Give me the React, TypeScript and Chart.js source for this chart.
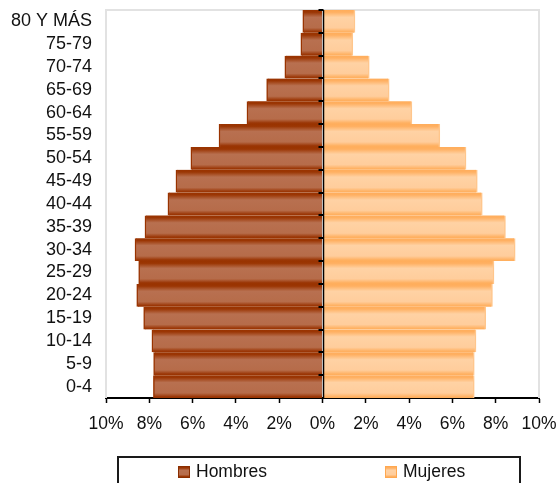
import React, { useEffect, useRef } from 'react';
import { Chart, registerables } from 'chart.js';
Chart.register(...registerables);

// Data (percent of population), youngest first
const ageGroups = ['0-4', '5-9', '10-14', '15-19', '20-24', '25-29', '30-34', '35-39', '40-44', '45-49', '50-54', '55-59', '60-64', '65-69', '70-74', '75-79', '80 Y MÁS'];
const hombres = [7.81, 7.8, 7.88, 8.26, 8.58, 8.49, 8.66, 8.2, 7.14, 6.77, 6.08, 4.78, 3.49, 2.58, 1.74, 1.0, 0.91];
const mujeres = [7.01, 7.01, 7.09, 7.54, 7.85, 7.92, 8.9, 8.45, 7.38, 7.15, 6.63, 5.42, 4.13, 3.08, 2.16, 1.4, 1.5];
const xTickValues = [-10, -8, -6, -4, -2, 0, 2, 4, 6, 8, 10];
const seriesNames = ['Hombres', 'Mujeres'];

const FONT = '"Liberation Sans", Arial, sans-serif';
const maleStops: [number, string][] = [[0, '#993300'], [0.1, '#9b3604'], [0.32, '#b87050'], [0.78, '#b66c4a'], [0.94, '#9c3808'], [1, '#993300']];
const femaleStops: [number, string][] = [[0, '#ffad5b'], [0.1, '#ffb062'], [0.32, '#ffd2a4'], [0.78, '#ffcd9c'], [0.94, '#ffb264'], [1, '#ffad5b']];

function bandGradient(chart: any, stops: [number, string][], key: string) {
  const area = chart.chartArea;
  const cache = (chart.$grad = chart.$grad || {});
  const k = key + area.top + '_' + area.bottom;
  if (cache[k]) return cache[k];
  const n = ageGroups.length;
  const g = chart.ctx.createLinearGradient(0, area.top, 0, area.bottom);
  for (let i = 0; i < n; i++) {
    for (const [p, c] of stops) {
      g.addColorStop(Math.min(1, Math.max(0, (i + p) / n)), c);
    }
  }
  cache[k] = g;
  return g;
}

const framePlugin = {
  id: 'pyramidFrame',
  beforeDatasetsDraw(chart: any) {
    const { ctx, chartArea: a } = chart;
    ctx.save();
    ctx.strokeStyle = '#e2e2e2';
    ctx.lineWidth = 2;
    ctx.beginPath();
    ctx.moveTo(a.left, a.bottom);
    ctx.lineTo(a.left, a.top);
    ctx.lineTo(a.right, a.top);
    ctx.lineTo(a.right, a.bottom);
    ctx.stroke();
    ctx.restore();
  },
  afterDatasetsDraw(chart: any) {
    const { ctx, chartArea: a, scales } = chart;
    const x0 = Math.round(scales.x.getPixelForValue(0)) + 0.5;
    const n = ageGroups.length;
    const h = (a.bottom - a.top) / n;
    ctx.save();
    ctx.strokeStyle = '#000';
    ctx.lineWidth = 1.5;
    ctx.beginPath();
    ctx.moveTo(x0, a.top);
    ctx.lineTo(x0, a.bottom);
    ctx.stroke();
    ctx.lineWidth = 2;
    ctx.beginPath();
    for (let i = 0; i < n; i++) {
      const y = Math.round(a.top + i * h);
      ctx.moveTo(x0 - 5, y);
      ctx.lineTo(x0, y);
    }
    ctx.stroke();
    ctx.restore();
  },
};

export default function App() {
  const ref = useRef<HTMLCanvasElement | null>(null);
  useEffect(() => {
    document.body.style.margin = '0';
    const canvas = ref.current;
    if (!canvas) return;
    const chart = new Chart(canvas, {
      type: 'bar',
      data: {
        labels: ageGroups,
        datasets: [
          {
            label: seriesNames[0],
            data: hombres.map((v) => -v),
            backgroundColor: (c: any) => (c.chart.chartArea ? bandGradient(c.chart, maleStops, 'm') : '#993300'),
            borderColor: '#993300',
            borderWidth: { left: 1.5, right: 0, top: 0, bottom: 0 },
            borderSkipped: false,
            barPercentage: 1,
            categoryPercentage: 1,
          },
          {
            label: seriesNames[1],
            data: mujeres,
            backgroundColor: (c: any) => (c.chart.chartArea ? bandGradient(c.chart, femaleStops, 'f') : '#ffb366'),
            borderColor: '#ffc68c',
            borderWidth: { left: 0, right: 1.5, top: 0, bottom: 0 },
            borderSkipped: false,
            barPercentage: 1,
            categoryPercentage: 1,
          },
        ],
      },
      options: {
        indexAxis: 'y',
        responsive: false,
        animation: false,
        layout: { padding: { left: 0, right: 18, top: 10, bottom: 0 } },
        plugins: { legend: { display: false }, tooltip: { enabled: false } },
        scales: {
          x: {
            type: 'linear',
            min: -10,
            max: 10,
            stacked: true,
            z: 1,
            afterBuildTicks: (s: any) => {
              s.ticks = xTickValues.map((v) => ({ value: v }));
            },
            afterFit: (s: any) => {
              s.height = 85;
              s.paddingLeft = 0;
              s.paddingRight = 0;
            },
            ticks: {
              callback: (v: any) => Math.abs(Number(v)) + '%',
              color: '#111',
              font: { family: FONT, size: 17.5 },
              padding: 11,
              maxRotation: 0,
            },
            grid: { drawOnChartArea: false, drawTicks: true, tickLength: 5, tickColor: '#000', tickWidth: 1.5 },
            border: { display: true, color: '#000', width: 2 },
          },
          y: {
            type: 'category',
            reverse: true,
            stacked: true,
            afterFit: (s: any) => {
              s.width = 106;
              s.paddingTop = 0;
              s.paddingBottom = 0;
            },
            ticks: {
              color: '#111',
              font: { family: FONT, size: 18 },
              padding: 14,
              autoSkip: false,
            },
            grid: { display: false, drawTicks: false },
            border: { display: false },
          },
        },
      },
      plugins: [framePlugin],
    } as any);
    return () => chart.destroy();
  }, []);

  const swatch = (stops: [number, string][], border: string) => ({
    position: 'absolute' as const,
    width: 12,
    height: 12,
    boxSizing: 'border-box' as const,
    border: `1px solid ${border}`,
    background: `linear-gradient(${stops.map(([p, c]) => `${c} ${p * 100}%`).join(', ')})`,
  });
  const textStyle = {
    position: 'absolute' as const,
    top: 461,
    fontFamily: FONT,
    fontSize: 17.5,
    lineHeight: '21px',
    color: '#111',
    whiteSpace: 'nowrap' as const,
  };

  return (
    <div style={{ position: 'relative', width: 557, height: 483, overflow: 'hidden', background: '#fff' }}>
      <canvas ref={ref} width={557} height={483} style={{ display: 'block' }} />
      <div
        style={{
          position: 'absolute',
          left: 117,
          top: 456,
          width: 404,
          height: 40,
          border: '2px solid #1a1a1a',
          boxSizing: 'border-box',
        }}
      />
      <div style={{ ...swatch(maleStops, '#8a2e00'), left: 178, top: 466 }} />
      <div style={{ ...textStyle, left: 196 }}>{seriesNames[0]}</div>
      <div style={{ ...swatch(femaleStops, '#ffa850'), left: 385, top: 466 }} />
      <div style={{ ...textStyle, left: 403 }}>{seriesNames[1]}</div>
    </div>
  );
}
